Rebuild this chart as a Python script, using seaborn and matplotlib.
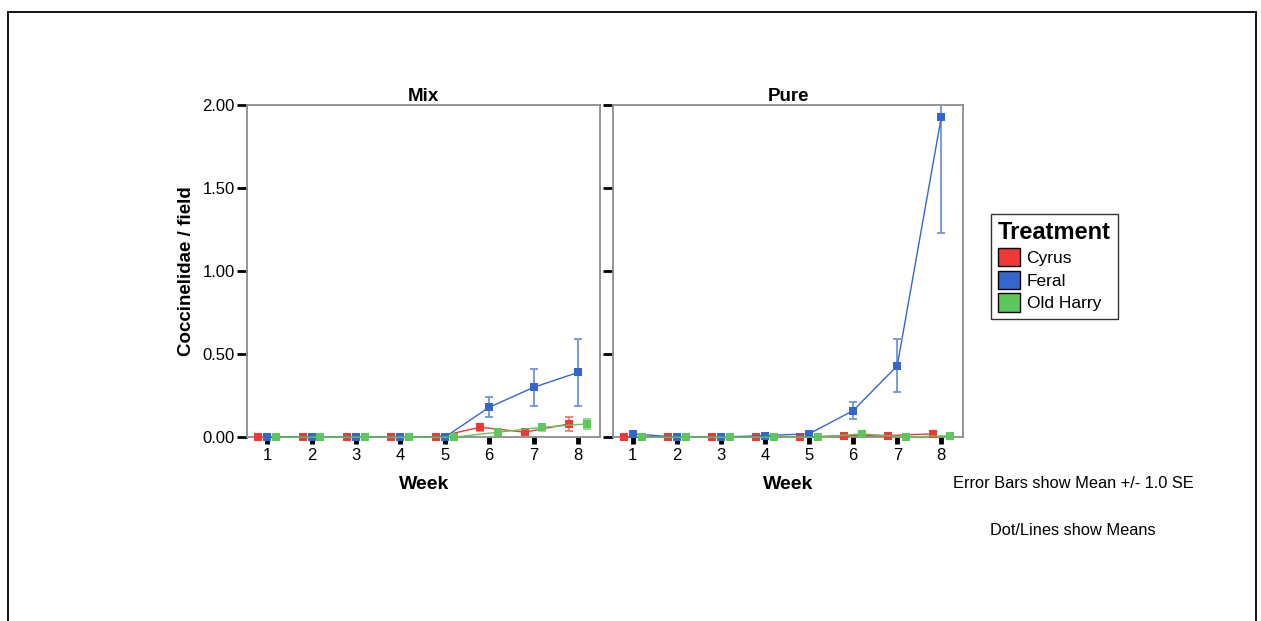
import numpy as np
import pandas as pd
import seaborn as sns
import matplotlib.pyplot as plt
from matplotlib.patches import Patch, Rectangle

# Data (means and standard errors)
weeks = [1, 2, 3, 4, 5, 6, 7, 8]
treatments = ['Cyrus', 'Feral', 'Old Harry']

mix_cyrus = [0, 0, 0, 0, 0, 0.06, 0.03, 0.08]
mix_cyrus_se = [0, 0, 0, 0, 0, 0.02, 0.01, 0.04]
mix_feral = [0, 0, 0, 0, 0, 0.18, 0.30, 0.39]
mix_feral_se = [0, 0, 0, 0, 0, 0.06, 0.11, 0.20]
mix_oldharry = [0, 0, 0, 0, 0, 0.03, 0.06, 0.08]
mix_oldharry_se = [0, 0, 0, 0, 0, 0.01, 0.02, 0.03]

pure_cyrus = [0, 0, 0, 0, 0, 0.01, 0.01, 0.02]
pure_cyrus_se = [0, 0, 0, 0, 0, 0.01, 0.01, 0.01]
pure_feral = [0.02, 0, 0, 0.01, 0.02, 0.16, 0.43, 1.93]
pure_feral_se = [0.01, 0, 0, 0.01, 0.01, 0.05, 0.16, 0.70]
pure_oldharry = [0, 0, 0, 0, 0, 0.02, 0, 0.01]
pure_oldharry_se = [0, 0, 0, 0, 0, 0.01, 0, 0.01]

colors = {'Cyrus': '#f03838', 'Feral': '#3566cc', 'Old Harry': '#5cc85c'}
err_colors = {'Cyrus': '#f47a7a', 'Feral': '#6f93de', 'Old Harry': '#8ed88e'}
offsets = {'Cyrus': -0.2, 'Feral': 0.0, 'Old Harry': 0.2}

rows = []
for panel, series in [('Mix', [mix_cyrus, mix_feral, mix_oldharry]),
                      ('Pure', [pure_cyrus, pure_feral, pure_oldharry])]:
    ses = {'Mix': [mix_cyrus_se, mix_feral_se, mix_oldharry_se],
           'Pure': [pure_cyrus_se, pure_feral_se, pure_oldharry_se]}[panel]
    for t, vals, se in zip(treatments, series, ses):
        for w, v, s in zip(weeks, vals, se):
            rows.append({'panel': panel, 'Treatment': t, 'week': w,
                         'x': w + offsets[t], 'mean': v, 'se': s})
df = pd.DataFrame(rows)

sns.set_style('white')
plt.rcParams['font.family'] = ['Liberation Sans', 'DejaVu Sans']
plt.rcParams['text.color'] = 'black'
plt.rcParams['axes.labelcolor'] = 'black'
plt.rcParams['xtick.color'] = 'black'
plt.rcParams['ytick.color'] = 'black'

fig = plt.figure(figsize=(12.61, 6.21), dpi=100)
ax1 = fig.add_axes([0.196, 0.296, 0.280, 0.535])
ax2 = fig.add_axes([0.486, 0.296, 0.278, 0.535])

for ax, panel in [(ax1, 'Mix'), (ax2, 'Pure')]:
    d = df[df['panel'] == panel]
    sns.lineplot(data=d, x='x', y='mean', hue='Treatment', palette=colors,
                 marker='s', markersize=6, markeredgewidth=0, linewidth=1,
                 ax=ax, legend=False, zorder=3)
    # let the zero-level markers sit on the axis without being cut
    for ln in ax.lines:
        ln.set_clip_on(False)
    for t in treatments:
        s = d[d['Treatment'] == t]
        ax.errorbar(s['x'], s['mean'], yerr=s['se'], fmt='none',
                    ecolor=err_colors[t], elinewidth=1.3, capsize=3,
                    capthick=1.3, zorder=2)
    ax.set_xlim(0.55, 8.5)
    ax.set_ylim(0, 2.0)
    ax.set_xticks(weeks)
    ax.set_xticklabels([str(w) for w in weeks], fontsize=12)
    ax.set_yticks([0, 0.5, 1.0, 1.5, 2.0])
    ax.set_title(panel, fontsize=13.5, fontweight='bold', pad=2)
    ax.set_xlabel('Week', fontsize=14, fontweight='bold', labelpad=9)
    for sp in ax.spines.values():
        sp.set_color('#8c8c8c')
        sp.set_linewidth(1.3)
    ax.tick_params(axis='both', which='both', direction='out', color='black',
                   labelsize=12, bottom=True, left=True)
    ax.tick_params(axis='x', length=5, width=3.5, pad=3)
    ax.tick_params(axis='y', length=7, width=2, pad=2)

ax1.set_yticklabels(['0.00', '0.50', '1.00', '1.50', '2.00'], fontsize=12)
ax1.set_ylabel('Coccinelidae / field', fontsize=13.5, fontweight='bold',
               labelpad=5)
ax2.set_yticklabels([])
ax2.set_ylabel('')

handles = [Patch(facecolor=colors[t], edgecolor='black', linewidth=1)
           for t in treatments]
leg = fig.legend(handles, treatments, title='Treatment', loc='upper left',
                 bbox_to_anchor=(0.779, 0.670), fontsize=12.5,
                 title_fontproperties={'weight': 'bold', 'size': 17},
                 frameon=True, fancybox=False, edgecolor='black',
                 handlelength=1.25, handleheight=1.25, handletextpad=0.4,
                 labelspacing=0.25, borderpad=0.4)
leg.get_frame().set_linewidth(1)
leg._legend_box.align = 'left'

fig.text(0.756, 0.222, 'Error Bars show Mean +/- 1.0 SE', fontsize=11.8,
         ha='left', va='center')
fig.text(0.785, 0.145, 'Dot/Lines show Means', fontsize=11.8,
         ha='left', va='center')

# outer frame like the original output window
fig.patches.append(Rectangle((0.0063, -0.05), 0.9897, 1.031,
                             transform=fig.transFigure, fill=False,
                             edgecolor='black', linewidth=1.3))

fig.savefig('out.png', dpi=100)
